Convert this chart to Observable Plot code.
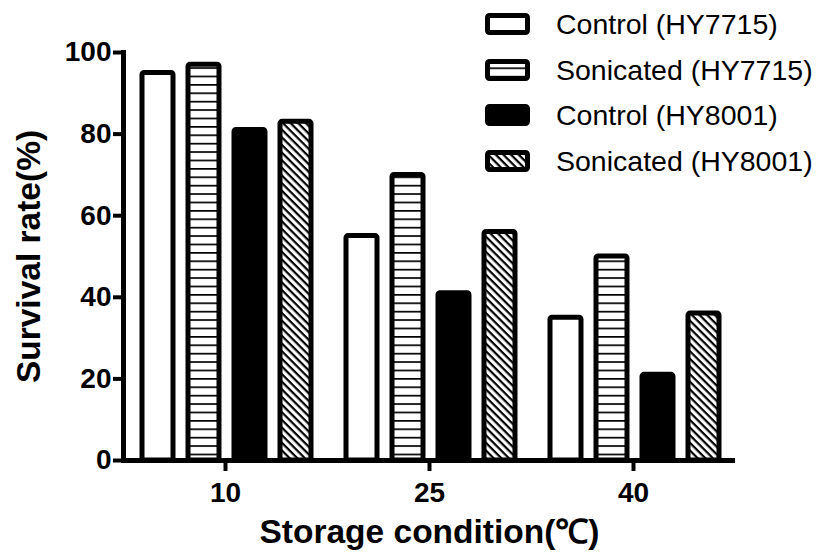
<!DOCTYPE html>
<html><head><meta charset="utf-8">
<script src="https://cdn.jsdelivr.net/npm/d3@7"></script>
<script src="https://cdn.jsdelivr.net/npm/@observablehq/plot@0.6"></script>
<style>
body{margin:0;background:#fff;}
#wrap{position:relative;width:824px;height:554px;font-family:"Liberation Sans",Arial,sans-serif;}
#legend{position:absolute;left:485px;top:13px;}
.row{display:flex;align-items:center;height:22px;margin-bottom:23.6px;}
.row span{margin-left:26px;font-size:28.5px;line-height:22px;color:#000;white-space:nowrap;}
.row svg{display:block;}
</style></head>
<body>
<svg width="0" height="0" style="position:absolute">
<defs>
<pattern id="hstripe" patternUnits="userSpaceOnUse" width="10" height="8.4">
<rect x="0" y="0" width="10" height="8.4" fill="#fff"/>
<rect x="0" y="0" width="10" height="1.7" fill="#000"/>
</pattern>
<pattern id="diag" patternUnits="userSpaceOnUse" width="5.4" height="5.4" patternTransform="rotate(45)">
<rect x="0" y="0" width="5.4" height="5.4" fill="#fff"/>
<rect x="0" y="0" width="5.4" height="2.2" fill="#000"/>
</pattern>
</defs>
</svg>
<div id="wrap"><div id="legend"></div></div>
<script>
const conditions = [10, 25, 40];
const series = ["Control (HY7715)", "Sonicated (HY7715)", "Control (HY8001)", "Sonicated (HY8001)"];
const control7715 = [95, 55, 35];
const sonicated7715 = [97, 70, 50];
const control8001 = [81, 41, 21];
const sonicated8001 = [83, 56, 36];
const yTicks = [0, 20, 40, 60, 80, 100];
const fills = ["white", "url(#hstripe)", "black", "url(#diag)"];
const xTitle = "Storage condition(℃)";
const yTitle = "Survival rate(%)";

const values = [control7715, sonicated7715, control8001, sonicated8001];
const data = conditions.flatMap((c, i) => series.map((s, j) => ({condition: c, series: s, value: values[j][i]})));

const font = '"Liberation Sans", Arial, sans-serif';
const chart = Plot.plot({
  width: 824, height: 554,
  marginLeft: 122, marginRight: 89, marginTop: 52, marginBottom: 94,
  style: {fontFamily: font, color: "black", background: "white"},
  fx: {domain: conditions, padding: 0},
  x: {domain: series, paddingInner: 0.33, paddingOuter: 0.36, align: 0.54, axis: null},
  y: {domain: [0, 100]},
  color: {type: "ordinal", domain: series, range: fills},
  marks: [
    Plot.barY(data, {fx: "condition", x: "series", y: "value", fill: "series", stroke: "black", strokeWidth: 5, strokeLinejoin: "round", rx: 2}),
    Plot.ruleY([0], {strokeWidth: 5}),
    Plot.frame({anchor: "left", facetAnchor: "left", strokeWidth: 5}),
    Plot.axisY({ticks: yTicks, tickSize: 10, tickPadding: 2, strokeWidth: 4, fontSize: 28, fontWeight: "bold", label: null}),
    Plot.axisFx({anchor: "bottom", tickSize: 11, tickPadding: 11, strokeWidth: 4, fontSize: 28, fontWeight: "bold", label: null}),
    Plot.text([{c: 10, t: yTitle}], {fx: "c", text: "t", frameAnchor: "left", textAnchor: "middle", lineAnchor: "middle", rotate: -90, dx: -94, fontSize: 33.5, fontWeight: "bold"}),
    Plot.text([{c: 25, t: xTitle}], {fx: "c", text: "t", frameAnchor: "bottom", textAnchor: "middle", lineAnchor: "middle", dy: 72, fontSize: 33.5, fontWeight: "bold"})
  ]
});
const wrap = document.getElementById("wrap");
wrap.insertBefore(chart, wrap.firstChild);

const legend = document.getElementById("legend");
series.forEach((s, i) => {
  const row = document.createElement("div");
  row.className = "row";
  row.innerHTML = `<svg width="45" height="22"><rect x="2.5" y="2.5" width="40" height="17" rx="2" fill="${fills[i]}" stroke="black" stroke-width="5"/></svg><span>${s}</span>`;
  legend.appendChild(row);
});
</script>
</body></html>
